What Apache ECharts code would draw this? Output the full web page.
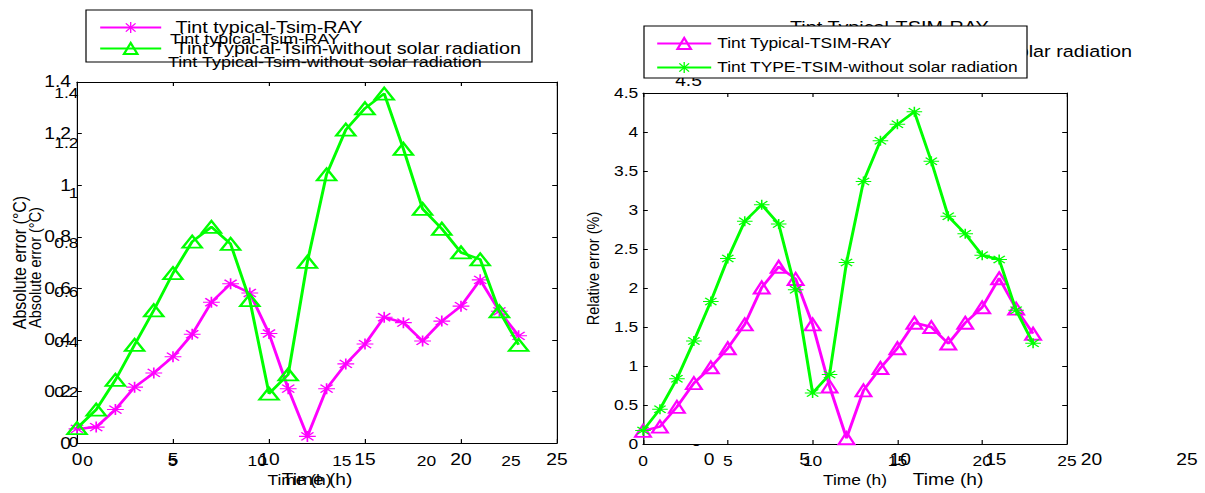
<!DOCTYPE html>
<html><head><meta charset="utf-8">
<script src="https://cdn.jsdelivr.net/npm/echarts@6/dist/echarts.min.js"></script>
<style>
html,body{margin:0;padding:0;background:#fff;overflow:hidden;width:1205px;height:493px;}
#wrap{width:1205px;height:493px;overflow:hidden;}
#chart{width:1004.1667px;height:493px;transform:scaleX(1.2);transform-origin:0 0;}
</style></head><body><div id="wrap"><div id="chart"></div></div>
<script>
// ---------- data ----------
const hours = [0,1,2,3,4,5,6,7,8,9,10,11,12,13,14,15,16,17,18,19,20,21,22,23];
const absRay =      [0.055,0.062,0.13,0.217,0.272,0.335,0.422,0.546,0.618,0.582,0.425,0.211,0.026,0.211,0.307,0.384,0.488,0.467,0.396,0.473,0.531,0.633,0.511,0.416];
const absNoSolar =  [0.058,0.13,0.245,0.381,0.515,0.659,0.781,0.838,0.772,0.554,0.192,0.266,0.703,1.042,1.215,1.298,1.355,1.141,0.908,0.831,0.739,0.712,0.511,0.381];
const relRay =      [0.17,0.224,0.477,0.782,0.984,1.229,1.534,2.007,2.273,2.117,1.534,0.739,0.076,0.689,0.976,1.229,1.555,1.5,1.289,1.555,1.753,2.125,1.736,1.415];
const relNoSolar =  [0.173,0.448,0.837,1.322,1.829,2.379,2.856,3.067,2.822,1.977,0.655,0.891,2.328,3.367,3.887,4.098,4.259,3.625,2.919,2.695,2.421,2.366,1.715,1.293];
const xTickLabels = ['0','5','10','15','20','25'];
const absTickLabels = ['0','0.2','0.4','0.6','0.8','1','1.2','1.4'];
const relTickLabels = ['0','0.5','1','1.5','2','2.5','3','3.5','4','4.5'];
const nameAbsRay = 'Tint typical-Tsim-RAY';
const nameAbsNoSolar = 'Tint Typical-Tsim-without solar radiation';
const nameRelRay = 'Tint Typical-TSIM-RAY';
const nameRelNoSolar = 'Tint TYPE-TSIM-without solar radiation';
const xTitle = 'Time (h)';
const absTitle = 'Absolute error (\u00B0C)';
const relTitle = 'Relative error (%)';

// ---------- style ----------
const S = 1.2;                 // horizontal stretch of the picture
const X = v => v / S;
const FONT = '"Liberation Sans", Arial, Helvetica, sans-serif';
const MAG = '#ff00ff', GRN = '#00ff00';
const STAR = 'path://M0 9H20V11H0Z M9 0H11V20H9Z M2 3.5L3.5 2L18 16.5L16.5 18Z M16.5 2L18 3.5L3.5 18L2 16.5Z';
const FL = 16.5, FR = 14.5;    // font sizes: left figure, right figure

const pairs = arr => hours.map((h, i) => [h, arr[i]]);

function xAx(grid, opts) {
  const ghost = !!opts.ghost;
  return {
    type: 'value', gridIndex: grid, min: 0, max: 25, interval: 5,
    position: opts.top ? 'top' : 'bottom',
    z: ghost ? -1 : 1,
    axisLine: {show: !ghost, onZero: false, lineStyle: {color: '#000', width: 1}},
    axisTick: {show: !ghost, inside: true, length: 4, lineStyle: {color: '#000', width: 1}},
    splitLine: {show: false},
    axisLabel: {show: !opts.top, fontSize: opts.fs, fontFamily: FONT, color: '#000', margin: opts.margin || 6,
      showMinLabel: true, showMaxLabel: true,
      formatter: v => xTickLabels[Math.round(v / 5)]},
    name: opts.top ? '' : xTitle, nameLocation: 'middle', nameGap: opts.nameGap || 25,
    nameTextStyle: {fontSize: opts.fs, fontFamily: FONT, color: '#000'}
  };
}
function yAx(grid, opts) {
  const ghost = !!opts.ghost;
  const labels = opts.labels;
  return {
    type: 'value', gridIndex: grid, min: 0, max: opts.max, interval: opts.step,
    position: opts.right ? 'right' : 'left',
    z: ghost ? -1 : 1,
    axisLine: {show: !ghost, onZero: false, lineStyle: {color: '#000', width: 1}},
    axisTick: {show: !ghost, inside: true, length: 4, lineStyle: {color: '#000', width: 1}},
    splitLine: {show: false},
    axisLabel: {show: !opts.right, fontSize: opts.fs, fontFamily: FONT, color: '#000', margin: opts.margin || 4,
      showMinLabel: true, showMaxLabel: true,
      formatter: v => labels[Math.round(v / opts.step)]},
    name: opts.right ? '' : opts.title, nameLocation: 'middle', nameRotate: 90, nameGap: opts.nameGap || 35,
    nameTextStyle: {fontSize: opts.fs, fontFamily: FONT, color: '#000'}
  };
}

const option = {
  animation: false,
  backgroundColor: '#fff',
  grid: [
    {left: X(77), width: X(557) - X(77), top: 82, height: 365},
    {left: X(88), width: X(511) - X(88), top: 93, height: 355},
    {left: X(643), width: X(1067) - X(643), top: 93, height: 355, show: true, backgroundColor: '#fff', borderWidth: 0, z: 0},
    {left: X(709), width: X(1187) - X(709), top: 81, height: 365}
  ],
  xAxis: [
    xAx(0, {fs: 16, margin: 8, nameGap: 27}),
    xAx(0, {fs: 16, top: true}),
    xAx(1, {fs: 14.5, ghost: true, margin: 11, nameGap: 28}),
    xAx(2, {fs: 14.5, margin: 9, nameGap: 28}),
    xAx(2, {fs: 14.5, top: true}),
    xAx(3, {fs: 16, ghost: true, margin: 11, nameGap: 22})
  ],
  yAxis: [
    yAx(0, {fs: 16, max: 1.4, step: 0.2, labels: absTickLabels, title: absTitle, margin: 5, nameGap: 40}),
    yAx(0, {fs: 16, max: 1.4, step: 0.2, labels: absTickLabels, right: true}),
    yAx(1, {fs: 14.5, max: 1.4, step: 0.2, labels: absTickLabels, title: absTitle, ghost: true, margin: 8, nameGap: 37}),
    yAx(2, {fs: 14.5, max: 4.5, step: 0.5, labels: relTickLabels, title: relTitle, margin: 4, nameGap: 34}),
    yAx(2, {fs: 14.5, max: 4.5, step: 0.5, labels: relTickLabels, right: true}),
    yAx(3, {fs: 16, max: 4.5, step: 0.5, labels: relTickLabels, ghost: true, margin: 6, nameGap: 200, title: ''})
  ],
  legend: [
    {data: [nameAbsRay, nameAbsNoSolar], orient: 'vertical', left: X(99), top: 19, padding: 0,
     itemWidth: X(160) - X(99), itemHeight: 14, itemGap: 4, selectedMode: false, z: 10,
     textStyle: {fontSize: FL, fontFamily: FONT, color: '#000', lineHeight: 14, padding: [0, 0, 0, 7]}},
    {data: [nameRelRay, nameRelNoSolar], orient: 'vertical', left: X(656), top: 36, padding: 0,
     itemWidth: X(710) - X(656), itemHeight: 14, itemGap: 9, selectedMode: false, z: 10,
     textStyle: {fontSize: FR, fontFamily: FONT, color: '#000', lineHeight: 14, padding: [0, 0, 0, 0]}}
  ],
  graphic: [
    {type: 'text', x: X(790), y: 28, z: 1, silent: true,
     style: {text: nameRelRay, font: `16.5px ${FONT}`, fill: '#000', textVerticalAlign: 'middle'}},
    {type: 'text', x: X(790), y: 52, z: 1, silent: true,
     style: {text: nameRelNoSolar, font: `16.5px ${FONT}`, fill: '#000', textVerticalAlign: 'middle'}},
    {type: 'rect', z: 2, silent: true, shape: {x: X(86), y: 10, width: X(532) - X(86), height: 52},
     style: {fill: '#fff', stroke: '#000', lineWidth: 1}},
    {type: 'rect', z: 2, silent: true, shape: {x: X(644), y: 26, width: X(1027) - X(644), height: 52},
     style: {fill: '#fff', stroke: '#000', lineWidth: 1}},
    {type: 'text', x: X(170), y: 39, z: 20, silent: true,
     style: {text: nameAbsRay, font: `15px ${FONT}`, fill: '#000', textVerticalAlign: 'middle'}},
    {type: 'text', x: X(168), y: 62, z: 20, silent: true,
     style: {text: nameAbsNoSolar, font: `15px ${FONT}`, fill: '#000', textVerticalAlign: 'middle'}}
  ],
  series: [
    {name: nameAbsRay, type: 'line', xAxisIndex: 0, yAxisIndex: 0, data: pairs(absRay),
     symbol: STAR, symbolSize: [14, 11], showAllSymbol: true, z: 2,
     lineStyle: {color: MAG, width: 2.5}, itemStyle: {color: MAG}, emphasis: {disabled: true}},
    {name: nameAbsNoSolar, type: 'line', xAxisIndex: 0, yAxisIndex: 0, data: pairs(absNoSolar),
     symbol: 'triangle', symbolSize: [16, 12], showAllSymbol: true, z: 3,
     lineStyle: {color: GRN, width: 2.5}, itemStyle: {color: 'rgba(255,255,255,0)', borderColor: GRN, borderWidth: 2}, emphasis: {disabled: true}},
    {name: nameRelRay, type: 'line', xAxisIndex: 3, yAxisIndex: 3, data: pairs(relRay),
     symbol: 'triangle', symbolSize: [13, 12], showAllSymbol: true, z: 2,
     lineStyle: {color: MAG, width: 2.5}, itemStyle: {color: 'rgba(255,255,255,0)', borderColor: MAG, borderWidth: 2}, emphasis: {disabled: true}},
    {name: nameRelNoSolar, type: 'line', xAxisIndex: 3, yAxisIndex: 3, data: pairs(relNoSolar),
     symbol: STAR, symbolSize: [13, 10], showAllSymbol: true, z: 3,
     lineStyle: {color: GRN, width: 2.5}, itemStyle: {color: GRN}, emphasis: {disabled: true}}
  ]
};
const chart = echarts.init(document.getElementById('chart'), null, {renderer: 'svg'});
chart.setOption(option);
</script></body></html>
